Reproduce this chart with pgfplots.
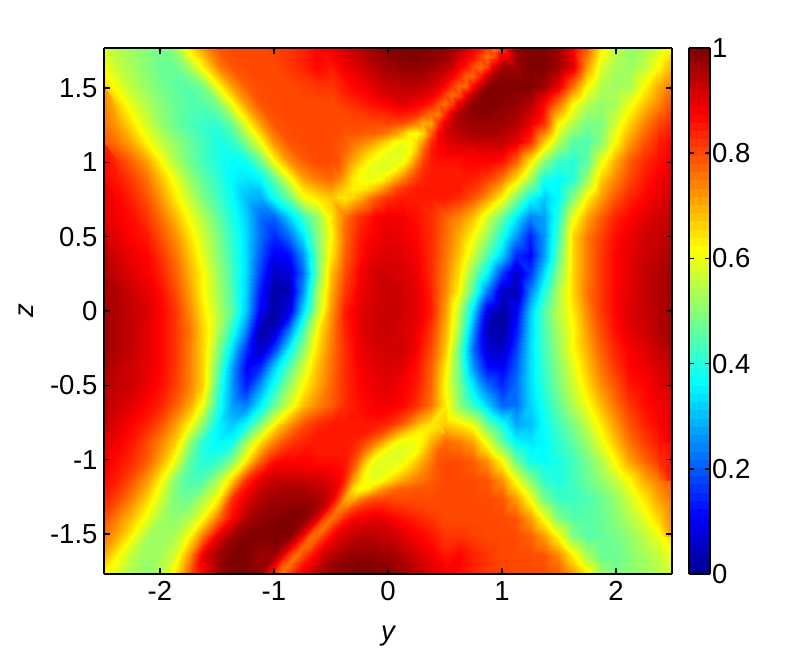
\documentclass[border=0pt]{standalone}
\usepackage{fontspec}
\setmainfont{Liberation Sans}
\usepackage{pgfplots}
\usepackage{pgfplotstable}
\pgfplotsset{compat=1.18}
% upper half only, 15 rows from the top edge down to z = 0, 41 columns, values x100
% the lower half is the same data turned through 180 degrees
\pgfplotstableread[row sep=\\,header=false]{58\\54\\52\\50\\48\\52\\64\\72\\79\\80\\80\\80\\81\\82\\84\\87\\88\\91\\94\\97\\99\\100\\100\\99\\98\\94\\89\\81\\82\\98\\100\\100\\97\\88\\78\\64\\55\\51\\53\\58\\62\\
61\\56\\53\\50\\47\\47\\53\\63\\74\\79\\80\\80\\80\\82\\84\\87\\85\\89\\92\\95\\97\\98\\98\\97\\94\\88\\80\\81\\97\\97\\100\\100\\97\\90\\72\\58\\53\\52\\55\\62\\70\\
66\\60\\55\\51\\48\\46\\45\\49\\62\\72\\78\\80\\80\\80\\81\\82\\82\\85\\88\\91\\93\\94\\94\\92\\87\\77\\87\\99\\100\\100\\100\\97\\90\\76\\62\\54\\52\\53\\62\\70\\76\\
72\\66\\59\\54\\50\\47\\45\\45\\49\\61\\72\\79\\80\\80\\80\\80\\80\\82\\84\\86\\88\\90\\88\\84\\76\\91\\99\\100\\99\\98\\95\\87\\76\\62\\54\\51\\53\\60\\68\\74\\80\\
76\\71\\64\\57\\51\\47\\44\\42\\42\\48\\61\\72\\79\\80\\80\\80\\80\\80\\80\\80\\81\\80\\75\\71\\90\\96\\97\\97\\97\\95\\90\\83\\63\\54\\48\\49\\57\\66\\74\\80\\84\\
79\\75\\70\\62\\56\\51\\47\\43\\39\\41\\50\\61\\73\\79\\80\\80\\80\\78\\75\\71\\65\\60\\65\\83\\90\\92\\93\\93\\93\\90\\83\\67\\54\\45\\44\\50\\62\\72\\79\\84\\87\\
85\\82\\77\\71\\62\\54\\48\\43\\39\\37\\38\\47\\62\\73\\78\\80\\80\\75\\67\\60\\59\\60\\74\\85\\86\\86\\87\\87\\86\\78\\64\\50\\42\\40\\46\\60\\70\\78\\83\\86\\89\\
87\\85\\81\\76\\68\\60\\52\\46\\41\\36\\34\\36\\46\\60\\71\\75\\77\\70\\61\\60\\66\\75\\82\\85\\85\\85\\84\\81\\75\\65\\53\\38\\36\\40\\52\\67\\74\\80\\85\\88\\91\\
89\\87\\84\\79\\72\\64\\56\\49\\43\\37\\30\\28\\38\\47\\60\\64\\67\\64\\70\\78\\83\\85\\85\\85\\85\\83\\79\\72\\62\\49\\37\\31\\36\\50\\63\\72\\79\\84\\87\\90\\93\\
90\\88\\86\\82\\76\\69\\61\\54\\46\\39\\32\\22\\21\\32\\42\\51\\64\\76\\83\\87\\89\\88\\86\\83\\78\\74\\68\\58\\47\\35\\24\\27\\40\\60\\71\\78\\84\\87\\90\\92\\94\\
91\\90\\87\\85\\79\\73\\65\\57\\49\\41\\33\\22\\15\\22\\34\\49\\62\\77\\85\\88\\90\\89\\87\\83\\77\\70\\62\\52\\39\\26\\14\\26\\43\\66\\75\\81\\86\\89\\92\\93\\95\\
93\\91\\89\\87\\82\\76\\68\\59\\50\\42\\33\\20\\10\\12\\26\\47\\64\\78\\86\\90\\91\\90\\88\\83\\76\\68\\57\\45\\32\\15\\11\\27\\46\\66\\75\\82\\87\\90\\92\\94\\96\\
95\\93\\90\\88\\84\\78\\70\\62\\52\\43\\33\\17\\5\\7\\22\\47\\68\\80\\88\\92\\92\\91\\89\\83\\75\\65\\50\\36\\17\\5\\16\\33\\50\\66\\75\\82\\87\\90\\93\\95\\97\\
96\\95\\92\\90\\86\\80\\72\\62\\53\\44\\32\\13\\2\\4\\26\\52\\70\\82\\89\\91\\93\\92\\90\\84\\74\\62\\44\\23\\5\\3\\24\\40\\54\\66\\76\\82\\87\\90\\93\\95\\97\\
96\\95\\93\\91\\87\\82\\74\\64\\55\\45\\31\\10\\2\\8\\33\\55\\72\\85\\90\\92\\93\\92\\90\\85\\72\\55\\33\\8\\2\\10\\31\\45\\55\\64\\74\\82\\87\\91\\93\\95\\96\\
}\upperhalf
% finer patch over the thin ridge and the yellow blob, 17 rows, 25 columns
\pgfplotstableread[row sep=\\,header=false]{88\\90\\91\\93\\94\\96\\97\\98\\99\\99\\100\\100\\100\\100\\99\\99\\98\\97\\94\\91\\89\\86\\81\\76\\82\\
87\\89\\90\\92\\93\\95\\96\\97\\98\\99\\99\\100\\100\\99\\99\\98\\97\\95\\92\\89\\86\\81\\76\\80\\90\\
85\\87\\89\\90\\92\\93\\95\\96\\97\\97\\98\\98\\98\\98\\97\\96\\94\\93\\88\\85\\80\\76\\81\\91\\97\\
83\\85\\87\\88\\90\\91\\92\\94\\95\\95\\96\\96\\96\\96\\94\\93\\91\\88\\84\\78\\77\\84\\92\\97\\100\\
82\\84\\85\\87\\88\\89\\91\\92\\93\\93\\94\\94\\94\\93\\92\\90\\87\\82\\77\\77\\87\\94\\99\\100\\100\\
81\\82\\84\\85\\86\\87\\88\\90\\91\\92\\92\\92\\91\\91\\89\\86\\81\\76\\79\\89\\95\\99\\100\\100\\100\\
80\\81\\82\\83\\84\\85\\86\\87\\88\\89\\90\\89\\88\\87\\84\\79\\76\\81\\91\\96\\99\\100\\100\\100\\99\\
80\\80\\80\\81\\81\\82\\83\\83\\84\\85\\85\\84\\83\\80\\76\\75\\83\\92\\96\\98\\99\\99\\99\\98\\98\\
80\\80\\80\\80\\80\\80\\80\\80\\81\\80\\80\\78\\75\\70\\71\\82\\90\\94\\96\\97\\97\\97\\97\\97\\97\\
80\\80\\79\\79\\79\\78\\78\\77\\75\\72\\68\\63\\61\\66\\78\\87\\91\\93\\94\\95\\96\\96\\96\\96\\95\\
80\\79\\78\\76\\75\\73\\71\\68\\65\\61\\60\\61\\65\\73\\83\\88\\90\\91\\92\\92\\93\\93\\93\\93\\93\\
80\\79\\77\\74\\71\\68\\65\\62\\60\\59\\59\\61\\68\\78\\85\\87\\88\\89\\89\\89\\89\\90\\90\\90\\90\\
80\\79\\75\\71\\67\\63\\60\\59\\59\\59\\60\\66\\74\\81\\85\\86\\86\\86\\86\\87\\87\\87\\87\\87\\86\\
79\\78\\73\\67\\62\\60\\59\\59\\59\\62\\67\\73\\79\\83\\85\\85\\85\\85\\85\\86\\86\\85\\85\\83\\80\\
77\\74\\70\\64\\61\\60\\60\\62\\66\\71\\75\\79\\82\\84\\85\\85\\85\\85\\85\\85\\84\\83\\81\\79\\75\\
72\\69\\66\\63\\63\\65\\68\\72\\76\\80\\82\\84\\85\\85\\85\\85\\85\\85\\85\\83\\82\\80\\77\\73\\69\\
67\\64\\64\\66\\70\\74\\78\\81\\83\\84\\85\\85\\85\\85\\85\\85\\85\\84\\83\\81\\79\\76\\72\\68\\62\\
}\ridge
\pgfplotsset{
  colormap={mjet}{rgb(0pt)=(0,0,0.5625); rgb(7pt)=(0,0,1); rgb(23pt)=(0,1,1); rgb(39pt)=(1,1,0); rgb(55pt)=(1,0,0); rgb(63pt)=(0.5,0,0)},
  heat/.style={surf, shader=interp, point meta=z},
}
\begin{document}
\begin{tikzpicture}[x=1pt,y=1pt]
\useasboundingbox (-104,-76) rectangle (696,574);
\begin{axis}[
    at={(0,0)}, anchor=south west,
    scale only axis, width=568pt, height=526pt,
    view={0}{90},
    xmin=-2.49, xmax=2.49, ymin=-1.77, ymax=1.77,
    enlargelimits=false,
    axis on top,
    colormap name=mjet,
    point meta min=0, point meta max=1,
    xtick={-2,-1,0,1,2}, xticklabels={-2,-1,0,1,2},
    ytick={-1.5,-1,-0.5,0,0.5,1,1.5}, yticklabels={-1.5,-1,-0.5,0,0.5,1,1.5},
    tick align=inside, xtick pos=both, ytick pos=both,
    tick style={black, line width=1.5pt},
    major tick length=6pt,
    axis line style={line width=2pt},
    tick label style={font=\fontsize{27.5}{31}\selectfont},
    xticklabel style={yshift=-4pt},
    yticklabel style={xshift=-3pt},
    xlabel={\itshape y}, ylabel={\itshape z},
    label style={font=\fontsize{27.5}{31}\selectfont},
    xlabel style={yshift=-18pt},
    ylabel style={yshift=10pt},
    colorbar sampled,
    colorbar style={
        samples=65, width=21pt,
        xshift=7pt,
        ytick={0,0.2,0.4,0.6,0.8,1}, yticklabels={0,0.2,0.4,0.6,0.8,1},
        ytick pos=both, yticklabel pos=right, tick align=inside,
        major tick length=5pt,
        tick style={black, line width=1.5pt},
        yticklabel style={xshift=-1pt},
        axis line style={line width=2pt},
    },
]
\addplot3[heat, mesh/cols=41] table[
    x index=0, y index=0, z index=0,
    x expr={-2.49+0.1245*mod(\coordindex,41)},
    y expr={1.77-0.12643*floor(\coordindex/41)},
    z expr={\thisrowno{0}/100}] {\upperhalf};
\addplot3[heat, mesh/cols=41] table[
    x index=0, y index=0, z index=0,
    x expr={2.49-0.1245*mod(\coordindex,41)},
    y expr={-1.77+0.12643*floor(\coordindex/41)},
    z expr={\thisrowno{0}/100}] {\upperhalf};
\addplot3[heat, mesh/cols=25] table[
    x index=0, y index=0, z index=0,
    x expr={-0.498+0.06225*mod(\coordindex,25)},
    y expr={1.77-0.06321*floor(\coordindex/25)},
    z expr={\thisrowno{0}/100}] {\ridge};
\addplot3[heat, mesh/cols=25] table[
    x index=0, y index=0, z index=0,
    x expr={0.498-0.06225*mod(\coordindex,25)},
    y expr={-1.77+0.06321*floor(\coordindex/25)},
    z expr={\thisrowno{0}/100}] {\ridge};
\end{axis}
\end{tikzpicture}
\end{document}
